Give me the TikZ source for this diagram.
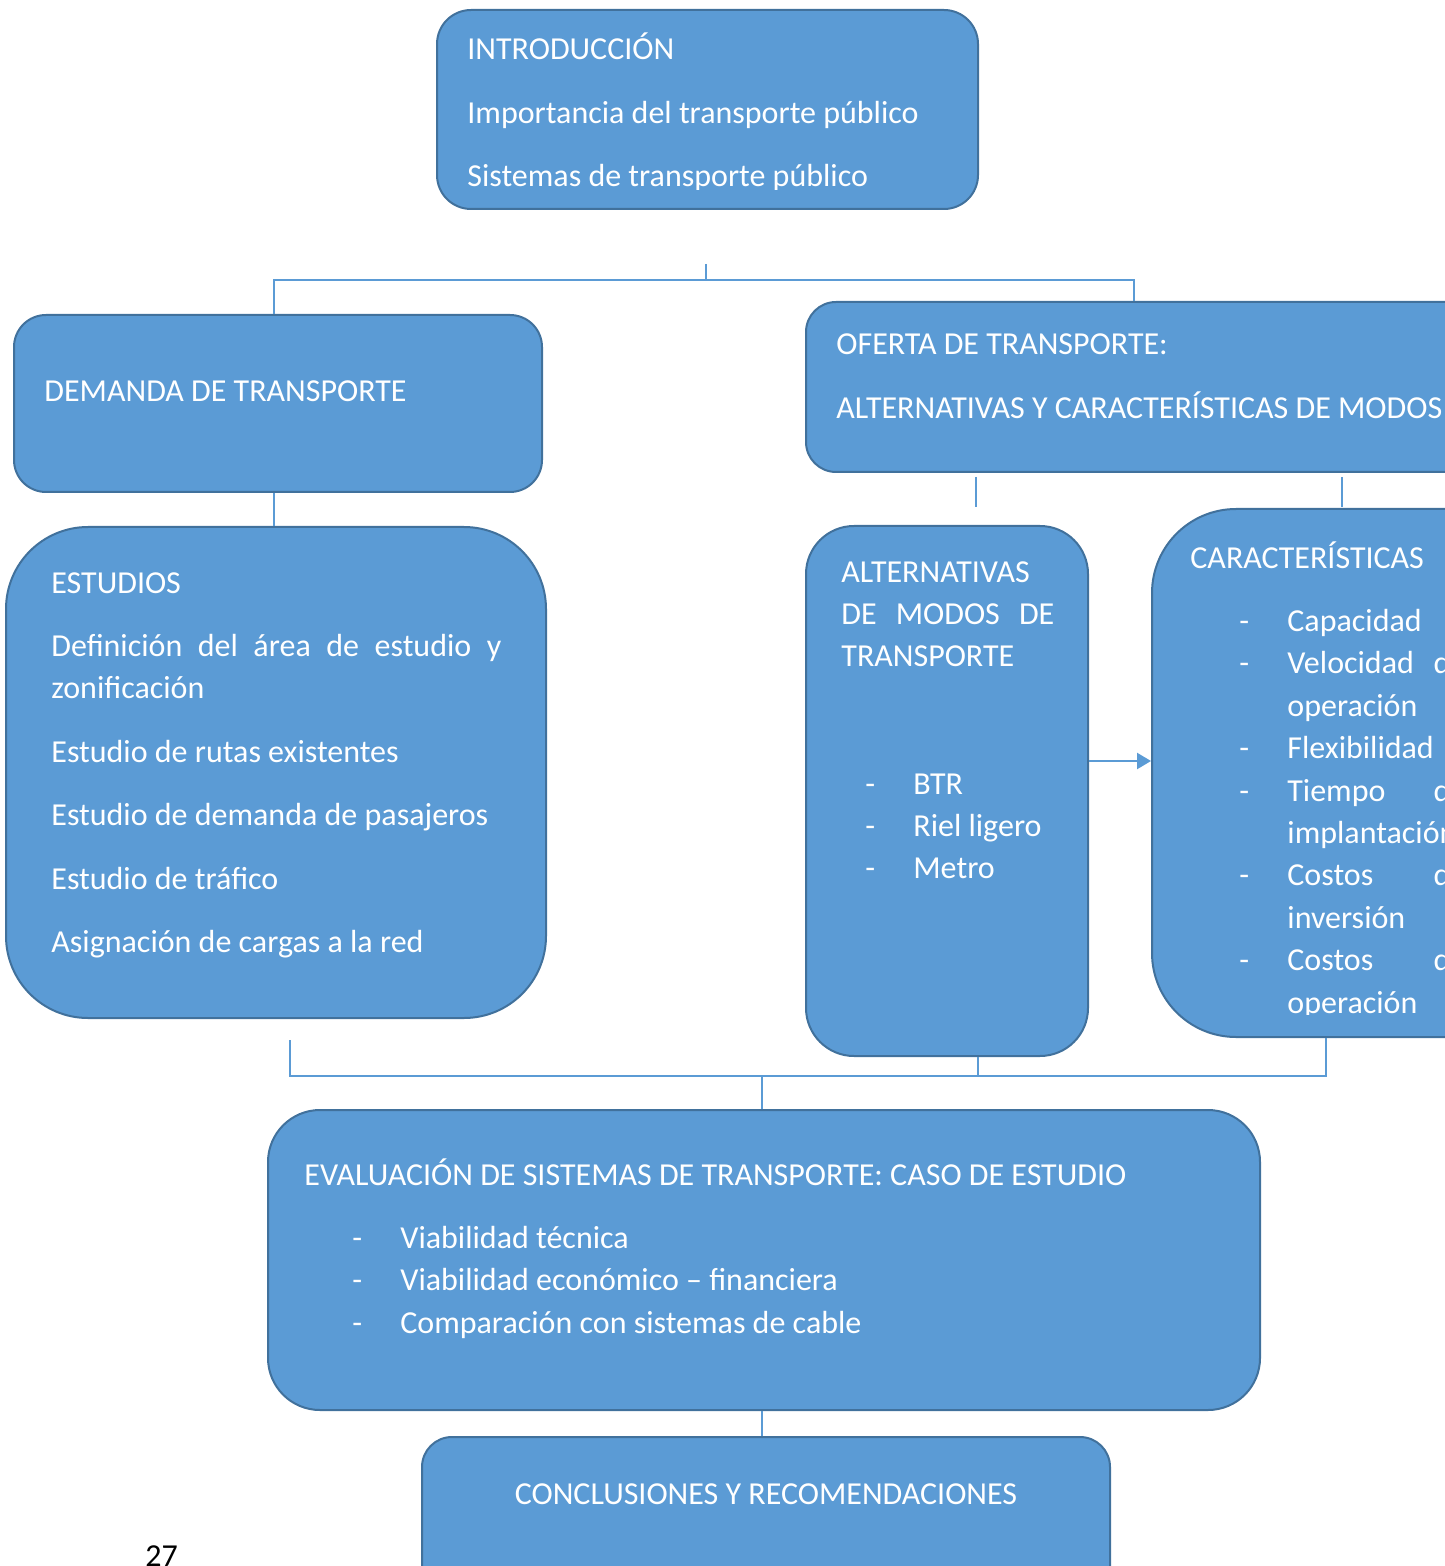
\documentclass[tikz,border=0pt]{standalone}
\usepackage{fontspec}
\setmainfont{Carlito}
\usetikzlibrary{fit,arrows.meta}

\definecolor{boxblue}{HTML}{5B9BD5}
\definecolor{boxedge}{HTML}{41719C}
\newcommand{\boxfont}{\fontsize{16}{21.2}\selectfont}
% dash, then item text
\newcommand{\dashitem}[3]{\hspace*{#1}\makebox[#2][l]{-}#3}

\tikzset{
  blok/.style={draw=boxedge, fill=boxblue, line width=1pt, inner sep=0pt},
  conn/.style={draw=boxblue, line width=0.7pt},
  txt/.style={anchor=base west, inner sep=0pt, text=white, font=\boxfont},
}

\begin{document}
\begin{tikzpicture}[x=0.5pt, y=-0.5pt]
\useasboundingbox (0,0) rectangle (1444,1566);

% boxes
\node[blok, rounded corners=17pt, fit={(437,10) (978,209)}] (intro) {};
\node[blok, rounded corners=16pt, fit={(14,315) (542,492)}] (demanda) {};
\node[blok, rounded corners=41pt, fit={(6,527) (546,1018)}] (estudios) {};
\node[blok, rounded corners=15pt, fit={(806,302) (1500,472)}] (oferta) {};
\node[blok, rounded corners=24pt, fit={(806,526) (1088,1056)}] (alt) {};
\node[blok, rounded corners=42pt, fit={(1152,509) (1700,1037)}] (caract) {};
\node[blok, rounded corners=26pt, fit={(268,1110) (1260,1410)}] (eval) {};
\node[blok, rounded corners=15pt, fit={(422,1437) (1110,1620)}] (concl) {};

% connectors
\coordinate (topfork) at (706,280);
\coordinate (ofertafork) at (1134,280);
\coordinate (demandafork) at (274,280);
\draw[conn] (topfork) ++(0,-16) -- (topfork);
\draw[conn] (demanda.north -| demandafork) |- (ofertafork) -- (oferta.north -| ofertafork);
\draw[conn] (demanda.south -| demandafork) -- (estudios.north -| demandafork);

\coordinate (altfoot) at (976,507);
\coordinate (carfoot) at (1342,507);
\draw[conn] (oferta.south -| altfoot) ++(0,4) -- (altfoot);
\draw[conn] (oferta.south -| carfoot) ++(0,4) -- (carfoot);

\coordinate (arrowy) at (1120,761);
\draw[conn, line width=1.2pt, -{Triangle[length=7pt, width=8pt]}] (alt.east |- arrowy) -- (caract.west |- arrowy);

\coordinate (botbar) at (762,1076);
\coordinate (estleg) at (290,1040);
\coordinate (altleg) at (978,1076);
\coordinate (carleg) at (1326,1076);
\draw[conn] (estleg) |- (carleg) -- (caract.south -| carleg);
\draw[conn] (alt.south -| altleg) -- (altleg);
\draw[conn] (botbar) -- (eval.north -| botbar);
\draw[conn] (eval.south -| botbar) -- (concl.north -| botbar);

% texts
\begin{scope}
\clip (437,10) rectangle (978,190);
\node[txt] (introtxt) at (467,60) {\parbox[t]{270pt}{\setlength{\parskip}{10.5pt}%
INTRODUCCIÓN\par
Importancia del transporte público\par
Sistemas de transporte público}};
\end{scope}

\node[txt] (demandatxt) at (44,402) {DEMANDA DE TRANSPORTE};

\node[txt] (estudiostxt) at (51,593) {\parbox[t]{225pt}{\setlength{\parskip}{10.5pt}%
ESTUDIOS\par
\makebox[225pt][s]{Definición del área de estudio y}\\
zonificación\par
Estudio de rutas existentes\par
Estudio de demanda de pasajeros\par
Estudio de tráfico\par
Asignación de cargas a la red}};

\node[txt] (ofertatxt) at (836,355) {\parbox[t]{320pt}{\setlength{\parskip}{10.5pt}%
OFERTA DE TRANSPORTE:\par
ALTERNATIVAS Y CARACTERÍSTICAS DE MODOS}};

\node[txt] (alttxt) at (841,582) {\parbox[t]{110pt}{%
ALTERNATIVAS\\
\makebox[106.5pt][s]{DE MODOS DE}\\
TRANSPORTE\\[42.4pt]
\dashitem{12pt}{24pt}{BTR}\\
\dashitem{12pt}{24pt}{Riel ligero}\\
\dashitem{12pt}{24pt}{Metro}}};

\begin{scope}
\clip (1152,509) rectangle (1444,1014);
\node[txt] (caracttxt) at (1190,568) {\parbox[t]{150pt}{\setlength{\parskip}{10.5pt}%
CARACTERÍSTICAS\par
\dashitem{24.5pt}{24pt}{Capacidad}\\
\dashitem{24.5pt}{24pt}{\makebox[89.5pt][s]{Velocidad de}}\\
\hspace*{48.5pt}operación\\
\dashitem{24.5pt}{24pt}{Flexibilidad}\\
\dashitem{24.5pt}{24pt}{\makebox[89.5pt][s]{Tiempo de}}\\
\hspace*{48.5pt}implantación\\
\dashitem{24.5pt}{24pt}{\makebox[89.5pt][s]{Costos de}}\\
\hspace*{48.5pt}inversión\\
\dashitem{24.5pt}{24pt}{\makebox[89.5pt][s]{Costos de}}\\
\hspace*{48.5pt}operación}};
\end{scope}

\node[txt] (evaltxt) at (304,1185) {\parbox[t]{460pt}{\setlength{\parskip}{10.5pt}%
EVALUACIÓN DE SISTEMAS DE TRANSPORTE: CASO DE ESTUDIO\par
\dashitem{24pt}{24pt}{Viabilidad técnica}\\
\dashitem{24pt}{24pt}{Viabilidad económico -- financiera}\\
\dashitem{24pt}{24pt}{Comparación con sistemas de cable}}};

\node[txt, anchor=base] (concltxt) at (766,1504) {CONCLUSIONES Y RECOMENDACIONES};

\node[txt, text=black] (pagenum) at (145,1566) {27};
\end{tikzpicture}
\end{document}
